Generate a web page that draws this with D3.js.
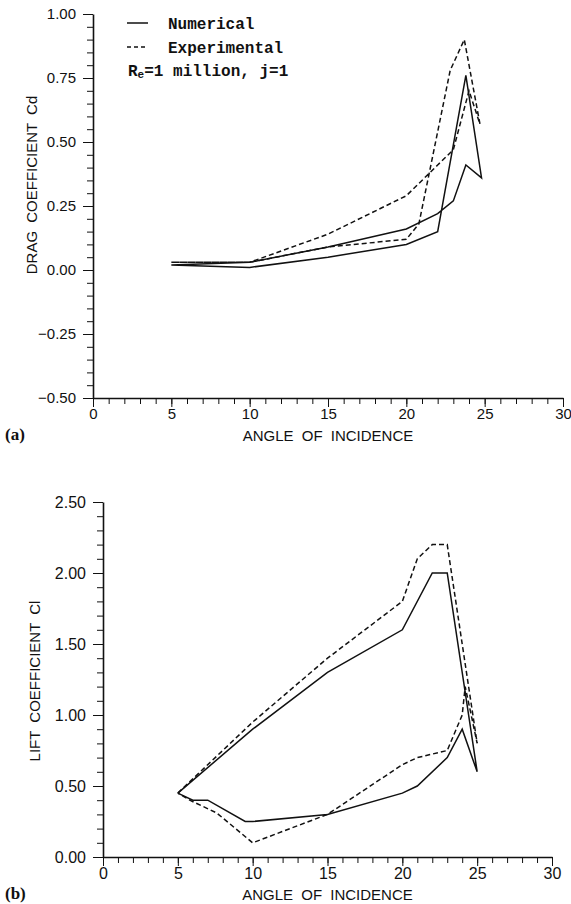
<!DOCTYPE html>
<html>
<head>
<meta charset="utf-8">
<script src="https://cdn.jsdelivr.net/npm/d3@7"></script>
<style>
    body { margin: 0; background: #fff; }
    svg { display: block; }
    .tick text { font-family: "Liberation Sans", Arial, sans-serif; fill: #111; }
    .axis path, .axis line { stroke: #111; }
</style>
</head>
<body>
<div id="chart"></div>
<script>
// (a) drag coefficient (loop: increasing then decreasing angle)
const numDragAngle = [5, 10, 15, 20, 22, 23.8, 24.8, 23.8, 23, 22, 20, 15, 10, 5];
const numDragCd    = [0.02, 0.01, 0.05, 0.10, 0.15, 0.76, 0.36, 0.41, 0.27, 0.22, 0.16, 0.09, 0.03, 0.02];
const expDragAngle = [5, 10, 15, 20, 20.8, 22.8, 23.7, 24.7, 24, 23, 22, 20, 15, 10, 5];
const expDragCd    = [0.03, 0.03, 0.09, 0.12, 0.18, 0.78, 0.90, 0.57, 0.70, 0.47, 0.41, 0.29, 0.14, 0.03, 0.03];

// (b) lift coefficient
const numLiftAngle = [5, 10, 15, 20, 22, 23, 25, 24, 23, 21, 20, 15, 10, 9.5, 7, 6, 5];
const numLiftCl    = [0.45, 0.90, 1.30, 1.60, 2.00, 2.00, 0.60, 0.90, 0.70, 0.50, 0.45, 0.30, 0.25, 0.25, 0.40, 0.40, 0.45];
const expLiftAngle = [5, 10, 15, 20, 21, 22, 23, 25, 24.2, 24, 23, 21, 20, 15, 10, 7.6, 5.8, 5];
const expLiftCl    = [0.45, 0.95, 1.40, 1.80, 2.10, 2.20, 2.20, 0.80, 1.20, 1.00, 0.75, 0.70, 0.65, 0.30, 0.10, 0.31, 0.40, 0.45];

// ticks
const angleTicks = [0, 5, 10, 15, 20, 25, 30];
const cdTicks = [-0.50, -0.25, 0.00, 0.25, 0.50, 0.75, 1.00];
const clTicks = [0.00, 0.50, 1.00, 1.50, 2.00, 2.50];

const width = 571;
const height = 904;

const svg = d3.select("#chart")
    .append("svg")
    .attr("width", width)
    .attr("height", height);

function drawPanel(opt) {
    const x = d3.scaleLinear().domain([0, 30]).range(opt.xRange);
    const y = d3.scaleLinear().domain(opt.yDomain).range(opt.yRange);
    const x0 = opt.xRange[0];
    const yBase = opt.yRange[0];

    // minor ticks
    svg.append("g")
        .attr("class", "axis")
        .attr("transform", `translate(0,${yBase})`)
        .call(d3.axisBottom(x).tickValues(d3.range(0, 31, 1)).tickSize(6).tickSizeOuter(0).tickFormat(""))
        .select(".domain").attr("stroke-width", 1.6);

    svg.append("g")
        .attr("class", "axis")
        .attr("transform", `translate(${x0},0)`)
        .call(d3.axisLeft(y).tickValues(opt.yMinor).tickSize(6).tickSizeOuter(0).tickFormat(""))
        .select(".domain").attr("stroke-width", 1.6);

    // major ticks + labels
    const gx = svg.append("g")
        .attr("class", "axis")
        .attr("transform", `translate(0,${yBase})`)
        .call(d3.axisBottom(x).tickValues(angleTicks).tickSize(9).tickSizeOuter(0).tickFormat(d3.format("d")));
    gx.select(".domain").remove();
    gx.selectAll(".tick text").attr("font-size", opt.fontSize).attr("dy", "0.6em");

    const gy = svg.append("g")
        .attr("class", "axis")
        .attr("transform", `translate(${x0},0)`)
        .call(d3.axisLeft(y).tickValues(opt.yTicks).tickSize(10).tickSizeOuter(0).tickFormat(d3.format(".2f")));
    gy.select(".domain").remove();
    gy.selectAll(".tick text").attr("font-size", opt.fontSize).attr("x", -17);

    // titles
    svg.append("text")
        .attr("x", (opt.xRange[0] + opt.xRange[1]) / 2)
        .attr("y", yBase + 43)
        .attr("text-anchor", "middle")
        .attr("font-family", "Liberation Sans, Arial, sans-serif")
        .attr("font-size", 15)
        .attr("word-spacing", 4)
        .attr("fill", "#111")
        .text("ANGLE OF INCIDENCE");

    svg.append("text")
        .attr("transform", `translate(${opt.yTitlePos[0]},${opt.yTitlePos[1]}) rotate(-90)`)
        .attr("text-anchor", "middle")
        .attr("font-family", "Liberation Sans, Arial, sans-serif")
        .attr("font-size", 15)
        .attr("word-spacing", 4)
        .attr("fill", "#111")
        .text(opt.yTitle);

    svg.append("text")
        .attr("x", 5)
        .attr("y", yBase + 42)
        .attr("font-family", "Liberation Serif, Times New Roman, serif")
        .attr("font-weight", "bold")
        .attr("font-size", 17)
        .attr("fill", "#111")
        .text(opt.tag);

    const line = d3.line()
        .x(d => x(d[0]))
        .y(d => y(d[1]));

    svg.append("path")
        .datum(d3.zip(opt.numX, opt.numY))
        .attr("d", line)
        .attr("fill", "none")
        .attr("stroke", "#111")
        .attr("stroke-width", 1.5)
        .attr("stroke-linejoin", "miter");

    svg.append("path")
        .datum(d3.zip(opt.expX, opt.expY))
        .attr("d", line)
        .attr("fill", "none")
        .attr("stroke", "#111")
        .attr("stroke-width", 1.5)
        .attr("stroke-dasharray", "5,3");
}

drawPanel({
    xRange: [93, 563],
    yDomain: [-0.5, 1],
    yRange: [398, 14],
    yTicks: cdTicks,
    yMinor: d3.range(-10, 21).map(i => i * 0.05),
    yTitle: "DRAG COEFFICIENT Cd",
    yTitlePos: [37, 185],
    tag: "(a)",
    fontSize: 15,
    numX: numDragAngle, numY: numDragCd,
    expX: expDragAngle, expY: expDragCd
});

drawPanel({
    xRange: [103, 552],
    yDomain: [0, 2.5],
    yRange: [857, 502],
    yTicks: clTicks,
    yMinor: d3.range(0, 26).map(i => i * 0.1),
    yTitle: "LIFT COEFFICIENT Cl",
    yTitlePos: [40, 681],
    tag: "(b)",
    fontSize: 16,
    numX: numLiftAngle, numY: numLiftCl,
    expX: expLiftAngle, expY: expLiftCl
});

// legend, panel (a)
const legend = svg.append("g")
    .attr("font-family", "Liberation Mono, DejaVu Sans Mono, monospace")
    .attr("font-weight", "bold")
    .attr("font-size", 16)
    .attr("fill", "#111");

legend.append("line")
    .attr("x1", 127).attr("x2", 148).attr("y1", 23).attr("y2", 23)
    .attr("stroke", "#111").attr("stroke-width", 1.5);
legend.append("text").attr("x", 168).attr("y", 29).text("Numerical");

legend.append("line")
    .attr("x1", 127).attr("x2", 145).attr("y1", 47).attr("y2", 47)
    .attr("stroke", "#111").attr("stroke-width", 1.5)
    .attr("stroke-dasharray", "4,3");
legend.append("text").attr("x", 168).attr("y", 53).text("Experimental");

const re = legend.append("text").attr("x", 128).attr("y", 76);
re.append("tspan").text("R");
re.append("tspan").attr("font-size", 11).attr("dy", 2).text("e");
re.append("tspan").attr("dy", -2).text("=1 million, j=1");
</script>
</body>
</html>
